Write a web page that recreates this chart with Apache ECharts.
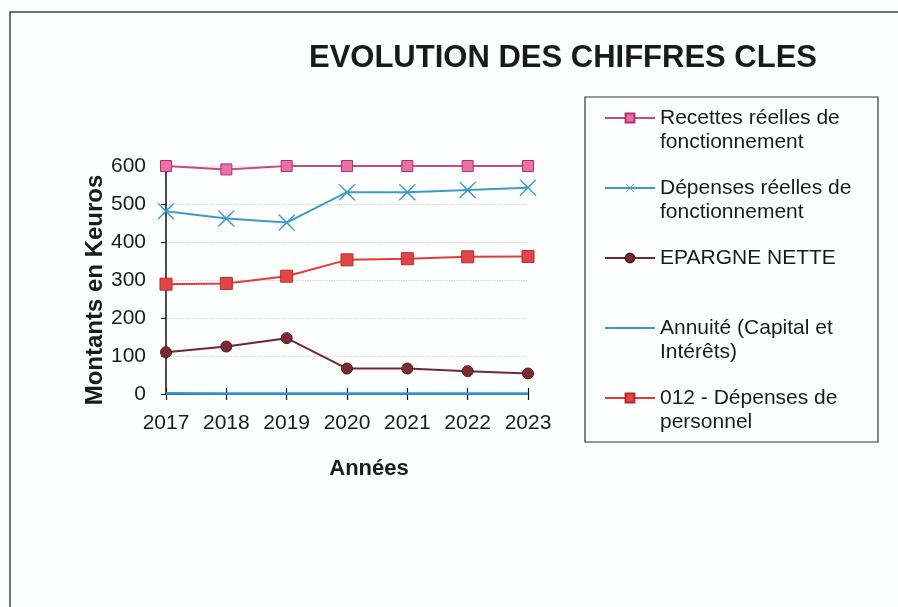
<!DOCTYPE html>
<html>
<head>
<meta charset="utf-8">
<script src="https://cdn.jsdelivr.net/npm/echarts@6/dist/echarts.min.js"></script>
<style>
html,body{margin:0;padding:0;background:#fdfefe;}
#chart{width:898px;height:607px;}
</style>
</head>
<body>
<div id="chart"></div>
<script>
var years = ['2017','2018','2019','2020','2021','2022','2023'];
var recettes = [600, 591, 600, 600, 600, 600, 600];
var depenses = [481, 462, 451, 531, 531, 537, 543];
var epargne = [110, 125, 147, 67, 67, 60, 54];
var annuite = [2, 1, 1, 1, 1, 1, 1];
var personnel = [289, 291, 310, 353, 356, 361, 362];
var yTicks = {min: 0, max: 600, interval: 100};

var names = ['Recettes réelles de\nfonctionnement', 'Dépenses réelles de\nfonctionnement', 'EPARGNE NETTE', 'Annuité (Capital et\nIntérêts)', '012 - Dépenses de\npersonnel'];

var xSymbol = 'path://M1,0 L10,8.6 L19,0 L20,1 L11.4,10 L20,19 L19,20 L10,11.4 L1,20 L0,19 L8.6,10 L0,1 Z';
var font = 'Liberation Sans, Arial, sans-serif';

var chart = echarts.init(document.getElementById('chart'), null, {renderer: 'canvas'});
chart.setOption({
  backgroundColor: '#fdfefe',
  animation: false,
  textStyle: {fontFamily: font},
  title: {
    text: 'EVOLUTION DES CHIFFRES CLES',
    left: 558, top: 38, textAlign: 'center',
    textStyle: {fontFamily: font, fontSize: 31, fontWeight: 'bold', color: '#1a1a1a'}
  },
  graphic: [
    {type: 'rect', shape: {x: 10, y: 12, width: 900, height: 620}, style: {fill: 'none', stroke: '#444', lineWidth: 1.5}, silent: true},
    {type: 'rect', shape: {x: 585, y: 97, width: 293, height: 345}, style: {fill: 'none', stroke: '#333', lineWidth: 1.2}, silent: true}
  ],
  legend: {
    orient: 'vertical',
    left: 604, top: 82,
    padding: 0,
    itemGap: -2,
    itemWidth: 50,
    itemHeight: 11,
    data: [
      {name: names[0]},
      {name: names[1], itemStyle: {borderWidth: 0}},
      {name: names[2]},
      {name: names[3], itemStyle: {opacity: 0}},
      {name: names[4]}
    ],
    formatter: function (n) { return '\n' + n + (n.indexOf('\n') < 0 ? '\n' : ''); },
    textStyle: {fontFamily: font, fontSize: 21, lineHeight: 24, color: '#1a1a1a'},
    selectedMode: false
  },
  grid: {left: 166, right: 370, top: 166, bottom: 213},
  xAxis: [{
    type: 'category', data: years, boundaryGap: false,
    axisLine: {lineStyle: {color: '#111', width: 1.5}},
    axisTick: {show: true, length: 6, lineStyle: {color: '#111', width: 1.2}},
    axisLabel: {fontFamily: font, fontSize: 21, color: '#1a1a1a', margin: 19, interval: 0},
    name: 'Années', nameLocation: 'middle', nameGap: 64,
    nameTextStyle: {fontFamily: font, fontSize: 22, fontWeight: 'bold', color: '#1a1a1a', padding: [0, 0, 0, 44]},
    splitLine: {show: false}
  }, {
    type: 'category', data: years, boundaryGap: false, position: 'bottom',
    axisLine: {show: false},
    axisTick: {show: true, inside: true, length: 6, interval: 0, lineStyle: {color: '#111', width: 1.2}},
    axisLabel: {show: false},
    splitLine: {show: false}
  }],
  yAxis: {
    type: 'value', min: yTicks.min, max: yTicks.max, interval: yTicks.interval,
    axisLine: {show: true, lineStyle: {color: '#111', width: 1.5}},
    axisTick: {show: true, length: 5, lineStyle: {color: '#111'}},
    axisLabel: {fontFamily: font, fontSize: 21, color: '#1a1a1a', margin: 20},
    splitLine: {show: true, lineStyle: {color: '#dccbd6', type: 'dotted', width: 1.2}},
    name: 'Montants en Keuros', nameLocation: 'middle', nameRotate: 90, nameGap: 58,
    nameTextStyle: {fontFamily: font, fontSize: 24, fontWeight: 'bold', color: '#1a1a1a', padding: [0, 20, 0, 0]}
  },
  series: [
    {name: names[0], type: 'line', data: recettes, symbol: 'rect', symbolSize: 11,
     lineStyle: {color: '#c84a80', width: 2}, itemStyle: {color: '#e672a6', borderColor: '#b0306a', borderWidth: 1}},
    {name: names[1], type: 'line', data: depenses, symbol: xSymbol, symbolSize: 17,
     lineStyle: {color: '#3c9cc2', width: 2}, itemStyle: {color: '#3c9cc2'}},
    {name: names[2], type: 'line', data: epargne, symbol: 'circle', symbolSize: 11,
     lineStyle: {color: '#6a2838', width: 2}, itemStyle: {color: '#7c2a32', borderColor: '#4a1a20', borderWidth: 1}},
    {name: names[3], type: 'line', data: annuite, symbol: 'none',
     lineStyle: {color: '#2f9ad6', width: 2.5}, itemStyle: {color: '#2f9ad6'}},
    {name: names[4], type: 'line', data: personnel, symbol: 'rect', symbolSize: 12,
     lineStyle: {color: '#e03c3c', width: 2}, itemStyle: {color: '#e04646', borderColor: '#b82a2a', borderWidth: 1}}
  ]
});
</script>
</body>
</html>
